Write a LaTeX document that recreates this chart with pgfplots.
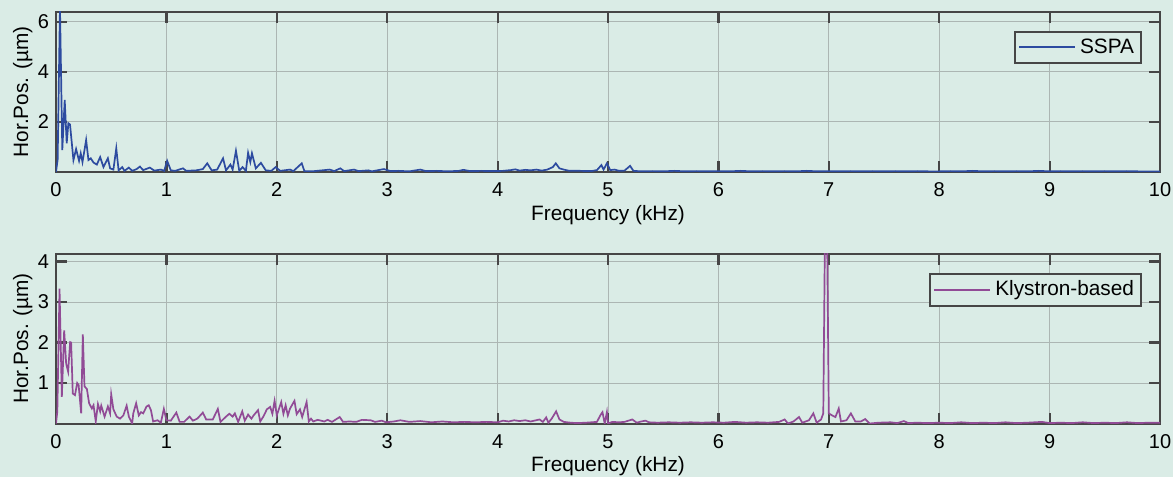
\documentclass[border=0pt]{standalone}
\usepackage{pgfplots}
\pgfplotsset{compat=1.18}
\usepackage{fontspec}
\setmainfont{Liberation Sans}
\definecolor{bgcol}{RGB}{218,236,230}
\definecolor{framecol}{RGB}{70,70,70}
\definecolor{gridcol}{RGB}{172,182,179}
\definecolor{sspacol}{RGB}{45,75,160}
\definecolor{klycol}{RGB}{145,75,150}
\pgfplotsset{
  myaxis/.style={
    scale only axis, width=552pt,
    xmin=0, xmax=10, ymin=0,
    xtick={0,1,2,3,4,5,6,7,8,9,10},
    grid=major,
    major grid style={gridcol, line width=0.5pt},
    axis line style={framecol, line width=1pt},
    tick style={framecol, line width=1.1pt},
    major tick length=5.5pt,
    tick align=inside,
    /pgf/number format/assume math mode=true,
    ticklabel style={font=\fontsize{10}{12}\selectfont, text=black},
    xticklabel style={anchor=base, yshift=-12.3pt},
    every axis x label/.style={at={(axis description cs:0.5,0)}, anchor=base, yshift=-24pt, font=\fontsize{10.4}{12}\selectfont},
    every axis y label/.style={at={(axis description cs:-0.0252,0.5)}, rotate=90, anchor=base, font=\fontsize{10.4}{12}\selectfont},
    xlabel={Frequency (kHz)},
    ylabel={Hor.Pos. (µm)},
    legend style={at={(1,1)}, anchor=north east, xshift=-9pt, yshift=-9.5pt,
      draw=framecol, line width=1pt, fill=bgcol, inner sep=1.5pt,
      font=\fontsize{10.4}{12}\selectfont, row sep=0pt},
  }
}
\begin{document}
\begin{tikzpicture}
\useasboundingbox (-28pt,-152.55pt) rectangle (558.5pt,86.05pt);
\fill[bgcol] (-28pt,-152.55pt) rectangle (558.5pt,86.05pt);
\begin{axis}[myaxis, at={(0pt,0pt)}, anchor=south west, height=80.2pt,
  ymax=6.4, ytick={2,4,6},
  legend image code/.code={\draw[draw=sspacol, line width=1pt] (0pt,0pt) -- (28pt,0pt);}]
\addplot[draw=sspacol, line width=0.85pt] coordinates {
(0,0) (0.015,0.5) (0.036,6.6) (0.057,0.88) (0.079,2.88) (0.097,1.15) (0.112,1.95) (0.127,1.9)
(0.158,0.48) (0.182,0.92) (0.209,0.45) (0.224,0.75) (0.24,0.4) (0.273,1.28) (0.294,0.48)
(0.315,0.55) (0.34,0.38) (0.37,0.3) (0.40,0.6) (0.43,0.2) (0.47,0.55) (0.49,0.15) (0.52,0.1)
(0.546,0.95) (0.567,0.07) (0.60,0.2) (0.62,0.05) (0.66,0.18) (0.69,0.05) (0.73,0.12) (0.76,0.22)
(0.79,0.08) (0.85,0.18) (0.89,0.06) (0.95,0.1) (0.98,0.05) (1.007,0.45) (1.04,0.07) (1.08,0.05)
(1.15,0.15) (1.18,0.05) (1.27,0.07) (1.33,0.12) (1.37,0.35) (1.41,0.07) (1.46,0.1) (1.513,0.55)
(1.54,0.07) (1.58,0.3) (1.60,0.1) (1.63,0.85) (1.66,0.05) (1.69,0.2) (1.72,0.05) (1.74,0.77)
(1.76,0.4) (1.775,0.75) (1.81,0.15) (1.856,0.37) (1.9,0.07) (1.95,0.05) (1.99,0.2) (2.03,0.05)
(2.12,0.1) (2.15,0.04) (2.226,0.35) (2.25,0.04) (2.34,0.04) (2.48,0.1) (2.52,0.04) (2.575,0.15)
(2.61,0.04) (2.7,0.1) (2.74,0.04) (2.83,0.07) (2.86,0.03) (2.97,0.12) (3.03,0.04)
(3.1,0.05) (3.2,0.03) (3.3,0.1) (3.35,0.04) (3.45,0.05) (3.55,0.03) (3.65,0.05) (3.69,0.09)
(3.75,0.04) (3.85,0.05) (3.95,0.04) (4.05,0.05) (4.12,0.08) (4.16,0.11) (4.2,0.06) (4.25,0.09)
(4.3,0.07) (4.35,0.1) (4.4,0.06) (4.45,0.1) (4.5,0.2) (4.527,0.35) (4.56,0.15) (4.6,0.1)
(4.65,0.05) (4.75,0.05) (4.85,0.04) (4.9,0.08) (4.94,0.28) (4.96,0.1) (4.99,0.35) (5.02,0.08)
(5.06,0.1) (5.1,0.05) (5.15,0.06) (5.2,0.25) (5.23,0.05) (5.3,0.03) (5.4,0.04) (5.5,0.03)
(5.6,0.05) (5.7,0.03) (5.8,0.04) (5.9,0.03) (6.0,0.04) (6.1,0.03) (6.2,0.05) (6.3,0.03)
(6.4,0.04) (6.5,0.03) (6.6,0.04) (6.7,0.03) (6.8,0.05) (6.9,0.03) (7.0,0.04) (7.1,0.03)
(7.2,0.04) (7.3,0.03) (7.4,0.04) (7.5,0.03) (7.6,0.04) (7.7,0.03) (7.8,0.04) (7.9,0.03)
(8.0,0.03) (8.1,0.04) (8.2,0.03) (8.3,0.05) (8.4,0.03) (8.5,0.04) (8.6,0.03) (8.7,0.04)
(8.8,0.03) (8.9,0.05) (9.0,0.03) (9.1,0.04) (9.2,0.03) (9.3,0.04) (9.4,0.03) (9.5,0.04)
(9.6,0.03) (9.7,0.04) (9.8,0.03) (9.9,0.03) (10.0,0.03)
};
\addlegendentry{SSPA}
\end{axis}
\begin{axis}[myaxis, at={(0pt,-40.7pt)}, anchor=north west, height=85pt,
  ymax=4.2, ytick={1,2,3,4},
  legend image code/.code={\draw[draw=klycol, line width=1pt] (0pt,0pt) -- (28pt,0pt);}]
\addplot[draw=klycol, line width=0.85pt] coordinates {
(0,0) (0.012,0.3) (0.032,3.33) (0.053,0.66) (0.074,2.3) (0.092,1.48) (0.11,1.28) (0.128,2.01)
(0.137,2.0) (0.152,0.74) (0.172,0.7) (0.192,1.0) (0.205,0.95) (0.228,0.25) (0.243,2.2)
(0.258,0.92) (0.28,0.85) (0.30,0.5) (0.325,0.37) (0.34,0.45) (0.36,0.05) (0.38,0.48) (0.40,0.3)
(0.41,0.44) (0.44,0.17) (0.47,0.42) (0.49,0.25) (0.50,0.72) (0.52,0.35) (0.55,0.17) (0.58,0.12)
(0.61,0.2) (0.64,0.44) (0.66,0.17) (0.69,0.0) (0.70,0.25) (0.726,0.5) (0.75,0.2) (0.77,0.28)
(0.79,0.25) (0.82,0.42) (0.84,0.45) (0.86,0.33) (0.88,0.05) (0.92,0.08) (0.95,0.02) (0.977,0.36)
(1.0,0.08) (1.04,0.07) (1.09,0.27) (1.12,0.04) (1.16,0.04) (1.21,0.17) (1.24,0.07) (1.28,0.12)
(1.33,0.27) (1.36,0.1) (1.42,0.1) (1.466,0.36) (1.49,0.04) (1.54,0.17) (1.57,0.24) (1.6,0.17)
(1.62,0.25) (1.65,0.04) (1.687,0.3) (1.71,0.07) (1.74,0.22) (1.77,0.12) (1.79,0.2) (1.83,0.33)
(1.85,0.05) (1.88,0.18) (1.91,0.35) (1.94,0.41) (1.96,0.24) (1.98,0.56) (2.0,0.2) (2.04,0.53)
(2.06,0.24) (2.08,0.45) (2.10,0.2) (2.12,0.37) (2.16,0.56) (2.18,0.23) (2.21,0.35) (2.23,0.16)
(2.27,0.53) (2.29,0.05) (2.31,0.12) (2.33,0.05) (2.37,0.09) (2.43,0.05) (2.46,0.09) (2.5,0.04)
(2.57,0.16) (2.6,0.04) (2.66,0.05) (2.72,0.04) (2.77,0.09) (2.85,0.08) (2.89,0.04) (2.95,0.07)
(2.99,0.03) (3.06,0.05) (3.12,0.08) (3.2,0.04) (3.3,0.06) (3.4,0.03) (3.5,0.05) (3.6,0.03)
(3.7,0.04) (3.8,0.03) (3.9,0.04) (4.0,0.03) (4.05,0.07) (4.1,0.05) (4.15,0.08) (4.2,0.06)
(4.25,0.08) (4.3,0.05) (4.38,0.1) (4.41,0.04) (4.44,0.15) (4.46,0.02) (4.49,0.12) (4.53,0.3)
(4.56,0.1) (4.6,0.04) (4.66,0.02) (4.72,0.01) (4.8,0.02) (4.9,0.04) (4.93,0.2) (4.95,0.28)
(4.97,0.0) (4.99,0.28) (5.0,0.0) (5.04,0.04) (5.1,0.03) (5.15,0.04) (5.22,0.1) (5.26,0.02)
(5.3,0.05) (5.34,0.07) (5.37,0.03) (5.45,0.02) (5.55,0.03) (5.65,0.02) (5.75,0.03) (5.85,0.02)
(5.95,0.03) (6.05,0.02) (6.15,0.04) (6.25,0.02) (6.35,0.03) (6.45,0.02) (6.55,0.04) (6.6,0.1)
(6.63,0.0) (6.68,0.05) (6.73,0.16) (6.76,0.02) (6.82,0.08) (6.86,0.25) (6.89,0.02) (6.93,0.1)
(6.95,0.25) (6.965,4.6) (6.985,4.6) (7.0,0.25) (7.03,0.2) (7.06,0.16) (7.09,0.37) (7.11,0.05)
(7.16,0.08) (7.2,0.25) (7.24,0.05) (7.29,0.05) (7.33,0.11) (7.37,0.0) (7.45,0.02) (7.56,0.03)
(7.62,0.01) (7.68,0.06) (7.72,0.01) (7.8,0.02) (7.9,0.01) (8.0,0.02) (8.1,0.01) (8.2,0.03)
(8.3,0.01) (8.4,0.02) (8.5,0.01) (8.6,0.03) (8.7,0.01) (8.8,0.02) (8.93,0.04) (9.0,0.01)
(9.1,0.02) (9.2,0.01) (9.3,0.03) (9.4,0.01) (9.5,0.02) (9.6,0.01) (9.7,0.03) (9.8,0.01)
(9.9,0.02) (10.0,0.02)
};
\addlegendentry{Klystron-based}
\end{axis}
\end{tikzpicture}
\end{document}
